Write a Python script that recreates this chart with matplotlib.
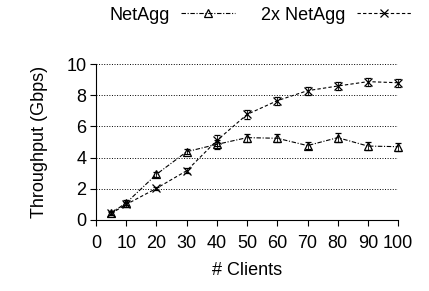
import matplotlib
matplotlib.use("Agg")
import matplotlib.pyplot as plt
from matplotlib.lines import Line2D

plt.rcParams["font.family"] = ["Liberation Sans", "DejaVu Sans"]

clients = [5, 10, 20, 30, 40, 50, 60, 70, 80, 90, 100]
netagg = [0.45, 1.1, 2.93, 4.38, 4.85, 5.28, 5.24, 4.77, 5.28, 4.74, 4.7]
netagg_err = [0.1, 0.15, 0.15, 0.15, 0.3, 0.25, 0.25, 0.25, 0.3, 0.25, 0.25]
netagg2x = [0.42, 1.0, 2.03, 3.16, 5.1, 6.77, 7.65, 8.29, 8.59, 8.87, 8.8]
netagg2x_err = [0.1, 0.15, 0.1, 0.15, 0.35, 0.3, 0.25, 0.25, 0.25, 0.25, 0.25]
xticks = list(range(0, 101, 10))
yticks = [0, 2, 4, 6, 8, 10]

FS = 13
dash1 = (0, (4, 1.5, 1, 1.5))
dash2 = (0, (3, 2))

fig = plt.figure(figsize=(4.29, 2.91), dpi=100)
ax = fig.add_axes([0.224, 0.244, 0.704, 0.536])

for y, err, ls, mk in [(netagg, netagg_err, dash1, "^"), (netagg2x, netagg2x_err, dash2, "x")]:
    cont = ax.errorbar(clients, y, yerr=err, color="black", ls=ls, lw=0.8,
                       marker=mk, ms=6, mfc="none", mew=0.9, capsize=2, elinewidth=0.6)
    for art in cont.get_children():
        art.set_clip_on(False)

ax.set_xlim(0, 100)
ax.set_ylim(0, 10)
ax.set_xticks(xticks)
ax.set_yticks(yticks)
ax.tick_params(axis="x", labelsize=FS, direction="out", length=4, width=0.8, pad=7)
ax.tick_params(axis="y", labelsize=FS, direction="out", length=4, width=0.8, pad=3)
ax.set_xlabel("# Clients", fontsize=FS, labelpad=7)
ax.set_ylabel("Throughput (Gbps)", fontsize=FS, labelpad=13)
ax.yaxis.grid(True, ls=":", color="black", lw=0.7)
ax.set_axisbelow(True)
for s in ("top", "right"):
    ax.spines[s].set_visible(False)
ax.spines["left"].set_linewidth(0.8)
ax.spines["bottom"].set_linewidth(0.8)

handles = [
    Line2D([], [], color="black", ls=dash1, lw=0.8, marker="^", ms=6, mfc="none", mew=0.9),
    Line2D([], [], color="black", ls=dash2, lw=0.8, marker="x", ms=6, mew=0.9),
]
fig.legend(handles, ["NetAgg", "2x NetAgg"], loc="center", bbox_to_anchor=(0.606, 1 - 15 / 291),
           ncol=2, frameon=False, markerfirst=False, fontsize=FS, handlelength=3,
           columnspacing=1.4, handletextpad=0.65, numpoints=1)

fig.savefig("out.png", dpi=100)
